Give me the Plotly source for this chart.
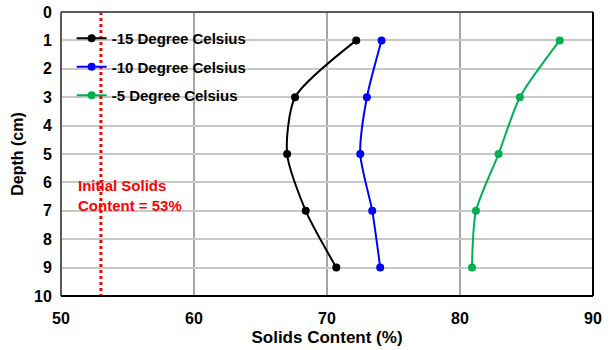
import plotly.graph_objects as go

# Depth profile of solids content after freezing
depth = [1, 3, 5, 7, 9]
solids_m15 = [72.2, 67.6, 67.0, 68.4, 70.7]
solids_m10 = [74.1, 73.0, 72.5, 73.4, 74.0]
solids_m5 = [87.5, 84.5, 82.9, 81.2, 80.9]
initial_solids = 53

series = [
    ("-15 Degree Celsius", solids_m15, "#000000"),
    ("-10 Degree Celsius", solids_m10, "#0000FF"),
    ("-5 Degree Celsius", solids_m5, "#00B050"),
]

FONT = "Liberation Sans, Arial, sans-serif"

fig = go.Figure()
for i, (name, vals, color) in enumerate(series):
    fig.add_trace(go.Scatter(
        x=vals, y=depth, name=name, mode="lines+markers",
        line=dict(color=color, width=2, shape="spline", smoothing=0.7),
        marker=dict(color=color, size=8),
        legendgroup=f"g{i}",
    ))

# Initial solids content reference line
fig.add_shape(type="line", x0=initial_solids, x1=initial_solids, y0=0, y1=10,
              xref="x", yref="y", line=dict(color="#FF0000", width=3, dash="dot"))

# Frame: grey top/left, black right/bottom
fig.add_shape(type="line", xref="paper", yref="paper", x0=0, x1=1, y0=1, y1=1,
              line=dict(color="#595959", width=2))
fig.add_shape(type="line", xref="paper", yref="paper", x0=0, x1=0, y0=0, y1=1,
              line=dict(color="#595959", width=2))
fig.add_shape(type="line", xref="paper", yref="paper", x0=1, x1=1, y0=0, y1=1,
              line=dict(color="#000000", width=2))
fig.add_shape(type="line", xref="paper", yref="paper", x0=0, x1=1, y0=0, y1=0,
              line=dict(color="#000000", width=2))

fig.add_annotation(x=51.1, y=6.45, xref="x", yref="y",
                   text="Initial Solids<br>Content = 53%", showarrow=False,
                   xanchor="left", yanchor="middle", align="left",
                   font=dict(family=FONT, size=15, color="#FF0000", weight="bold"))

fig.update_layout(
    width=613, height=350,
    margin=dict(l=61, r=20, t=12, b=54, autoexpand=False),
    paper_bgcolor="white", plot_bgcolor="white",
    font=dict(family=FONT, size=16, color="#000000", weight="bold"),
    showlegend=True,
    legend=dict(x=0.02, y=0.965, xanchor="left", yanchor="top",
                bgcolor="rgba(0,0,0,0)", traceorder="grouped",
                tracegroupgap=6,
                font=dict(family=FONT, size=15, color="#000000", weight="bold")),
    xaxis=dict(range=[50, 90], dtick=10, tick0=50, automargin=False,
               showgrid=True, gridcolor="#A6A6A6", gridwidth=1.5,
               zeroline=False, showline=False,
               ticks="outside", ticklen=8, tickcolor="rgba(0,0,0,0)",
               title=dict(text="Solids Content (%)", standoff=4,
                          font=dict(family=FONT, size=17, weight="bold")),
               tickfont=dict(family=FONT, size=16, weight="bold")),
    yaxis=dict(range=[10, 0], dtick=1, tick0=0, automargin=False,
               showgrid=True, gridcolor="#C8C8C8", gridwidth=1.5,
               zeroline=False, showline=False,
               ticks="outside", ticklen=5, tickcolor="rgba(0,0,0,0)",
               title=dict(text="Depth (cm)", standoff=6,
                          font=dict(family=FONT, size=16, weight="bold")),
               tickfont=dict(family=FONT, size=16, weight="bold")),
)

fig.write_html("out.html")
